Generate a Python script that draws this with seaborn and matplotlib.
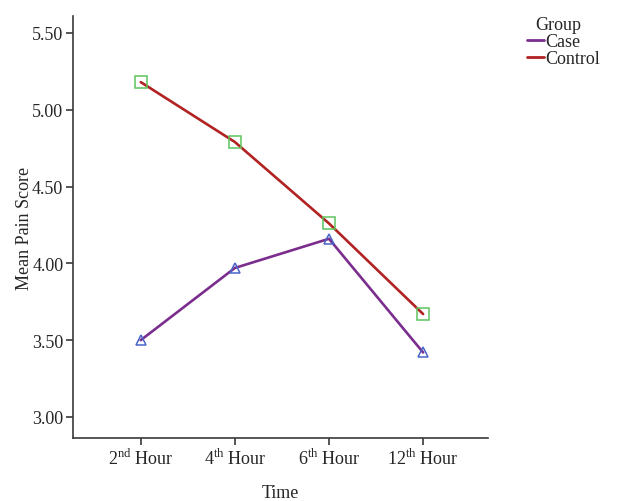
import pandas as pd
import numpy as np
import seaborn as sns
import matplotlib.pyplot as plt
from matplotlib.lines import Line2D

# values
times = ['2$^{\\mathrm{nd}}$ Hour', '4$^{\\mathrm{th}}$ Hour',
         '6$^{\\mathrm{th}}$ Hour', '12$^{\\mathrm{th}}$ Hour']
case_scores = [3.50, 3.97, 4.16, 3.42]
control_scores = [5.18, 4.79, 4.26, 3.67]
groups = ['Case', 'Control']
yticks = [3.00, 3.50, 4.00, 4.50, 5.00, 5.50]

line_colors = {'Case': '#7b2d8e', 'Control': '#b22222'}
marker_colors = {'Case': '#4a64c8', 'Control': '#5cc45c'}
markers = {'Case': '^', 'Control': 's'}
msizes = {'Case': 6.5, 'Control': 8}

df = pd.DataFrame({
    'Time': times * 2,
    'Score': case_scores + control_scores,
    'Group': ['Case'] * len(times) + ['Control'] * len(times),
})

sns.set_style('white')
plt.rcParams['font.family'] = ['Liberation Serif', 'DejaVu Serif']
plt.rcParams['mathtext.fontset'] = 'custom'
plt.rcParams['mathtext.rm'] = 'Liberation Serif'

fs = 13

fig = plt.figure(figsize=(6.17, 5.02), dpi=100)
ax = fig.add_axes([0.1183, 0.1255, 0.6727, 0.8405])

for g in groups:
    sub = df[df['Group'] == g]
    sns.lineplot(data=sub, x='Time', y='Score', ax=ax, color=line_colors[g],
                 linewidth=1.9, marker=markers[g], markersize=msizes[g],
                 markerfacecolor='none', markeredgecolor=marker_colors[g],
                 markeredgewidth=1.1, legend=False)

ax.set_xlim(-0.72, 3.69)
ax.set_ylim(2.863, 5.61)
ax.set_yticks(yticks)
ax.set_yticklabels([f'{v:.2f}' for v in yticks])

for side in ['top', 'right']:
    ax.spines[side].set_visible(False)
for side in ['left', 'bottom']:
    ax.spines[side].set_color('#3a3a3a')
    ax.spines[side].set_linewidth(1.2)

ax.tick_params(axis='both', which='both', direction='out', length=5, width=1.2,
               color='#3a3a3a', labelsize=fs, left=True, bottom=True, pad=2)
ax.set_xlabel('Time', fontsize=fs, labelpad=12)
ax.set_ylabel('Mean Pain Score', fontsize=fs, labelpad=-1)

handles = [Line2D([], [], color=line_colors[g], linewidth=2) for g in groups]
leg = ax.legend(handles, groups, title='Group', loc='upper left',
                bbox_to_anchor=(1.095, 1.0), frameon=False, fontsize=fs,
                title_fontsize=fs, handlelength=0.9, handletextpad=0.1,
                labelspacing=0.0, borderaxespad=0.0, borderpad=0.0)
leg._legend_box.align = 'left'
leg.get_title().set_position((8, 0))

fig.savefig('out.png', dpi=100)
